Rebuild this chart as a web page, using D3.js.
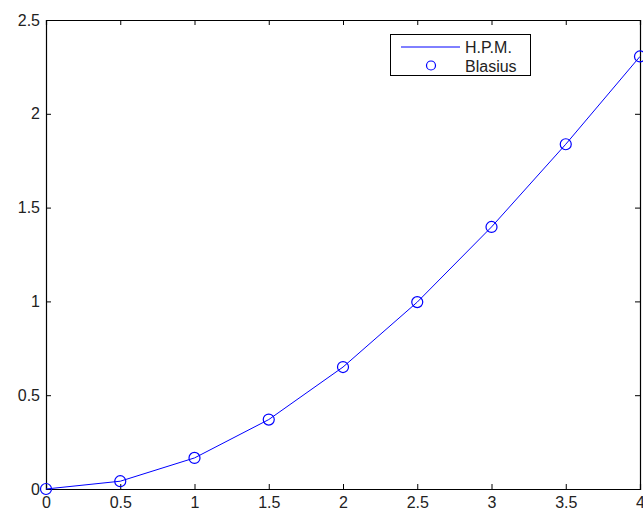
<!DOCTYPE html>
<html>
<head>
<meta charset="utf-8">
<script src="https://cdn.jsdelivr.net/npm/d3@7"></script>
<style>
html,body{margin:0;padding:0;background:#fff;}
svg{display:block;font-family:"Liberation Sans",Arial,sans-serif;}
</style>
</head>
<body>
<svg id="chart" width="643" height="513"></svg>
<script>
const eta = [0, 0.5, 1, 1.5, 2, 2.5, 3, 3.5, 4];
const hpm = [0, 0.0415, 0.1656, 0.3701, 0.6500, 0.9963, 1.3968, 1.8377, 2.3057];
const blasius = [0, 0.0415, 0.1656, 0.3701, 0.6500, 0.9963, 1.3968, 1.8377, 2.3057];
const xTicks = [0, 0.5, 1, 1.5, 2, 2.5, 3, 3.5, 4];
const yTicks = [0, 0.5, 1, 1.5, 2, 2.5];
const legendLabels = ["H.P.M.", "Blasius"];

const svg = d3.select("#chart");
const L = 46, R = 640, T = 20, B = 489;
const x = d3.scaleLinear().domain([0, 4]).range([L, R]);
const y = d3.scaleLinear().domain([0, 2.5]).range([B, T]);
const blue = "#0000ff";
const FS = 16;

const fmt = d => d3.format("")(d);
const xb = svg.append("g").attr("transform", `translate(0,${B})`)
  .call(d3.axisBottom(x).tickValues(xTicks).tickSize(-5).tickPadding(8).tickFormat(fmt));
const xt = svg.append("g").attr("transform", `translate(0,${T})`)
  .call(d3.axisTop(x).tickValues(xTicks).tickSize(-5).tickFormat(""));
const yl = svg.append("g").attr("transform", `translate(${L},0)`)
  .call(d3.axisLeft(y).tickValues(yTicks).tickSize(-5).tickPadding(6).tickFormat(fmt));
const yr = svg.append("g").attr("transform", `translate(${R},0)`)
  .call(d3.axisRight(y).tickValues(yTicks).tickSize(-5).tickFormat(""));
[xb, xt, yl, yr].forEach(g => {
  g.attr("font-size", FS).attr("font-family", "'Liberation Sans', Arial, sans-serif");
  g.select(".domain").attr("stroke", "#000").attr("stroke-width", 1.2);
  g.selectAll(".tick line").attr("stroke", "#000");
  g.selectAll("text").attr("fill", "#222");
});
xb.selectAll("text").attr("dy", "0.71em");

svg.append("path").datum(eta.map((d, i) => [d, hpm[i]]))
  .attr("fill", "none").attr("stroke", blue).attr("stroke-width", 1)
  .attr("d", d3.line().x(d => x(d[0])).y(d => y(d[1])));

svg.append("g").selectAll("circle").data(eta.map((d, i) => [d, blasius[i]]))
  .join("circle")
  .attr("cx", d => x(d[0])).attr("cy", d => y(d[1])).attr("r", 5.5)
  .attr("fill", "none").attr("stroke", blue).attr("stroke-width", 1.2);

const lg = svg.append("g");
lg.append("rect").attr("x", 390.5).attr("y", 34.5).attr("width", 140).attr("height", 41)
  .attr("fill", "#fff").attr("stroke", "#000").attr("stroke-width", 1);
lg.append("line").attr("x1", 401).attr("x2", 460).attr("y1", 47).attr("y2", 47)
  .attr("stroke", blue).attr("stroke-width", 1);
lg.append("circle").attr("cx", 431).attr("cy", 65.5).attr("r", 4.5)
  .attr("fill", "none").attr("stroke", blue).attr("stroke-width", 1.2);
lg.selectAll("text.lab").data(legendLabels).join("text").attr("class", "lab")
  .attr("x", 465).attr("y", (d, i) => 52.5 + i * 19)
  .attr("font-size", FS).attr("fill", "#222").text(d => d);
</script>
</body>
</html>
